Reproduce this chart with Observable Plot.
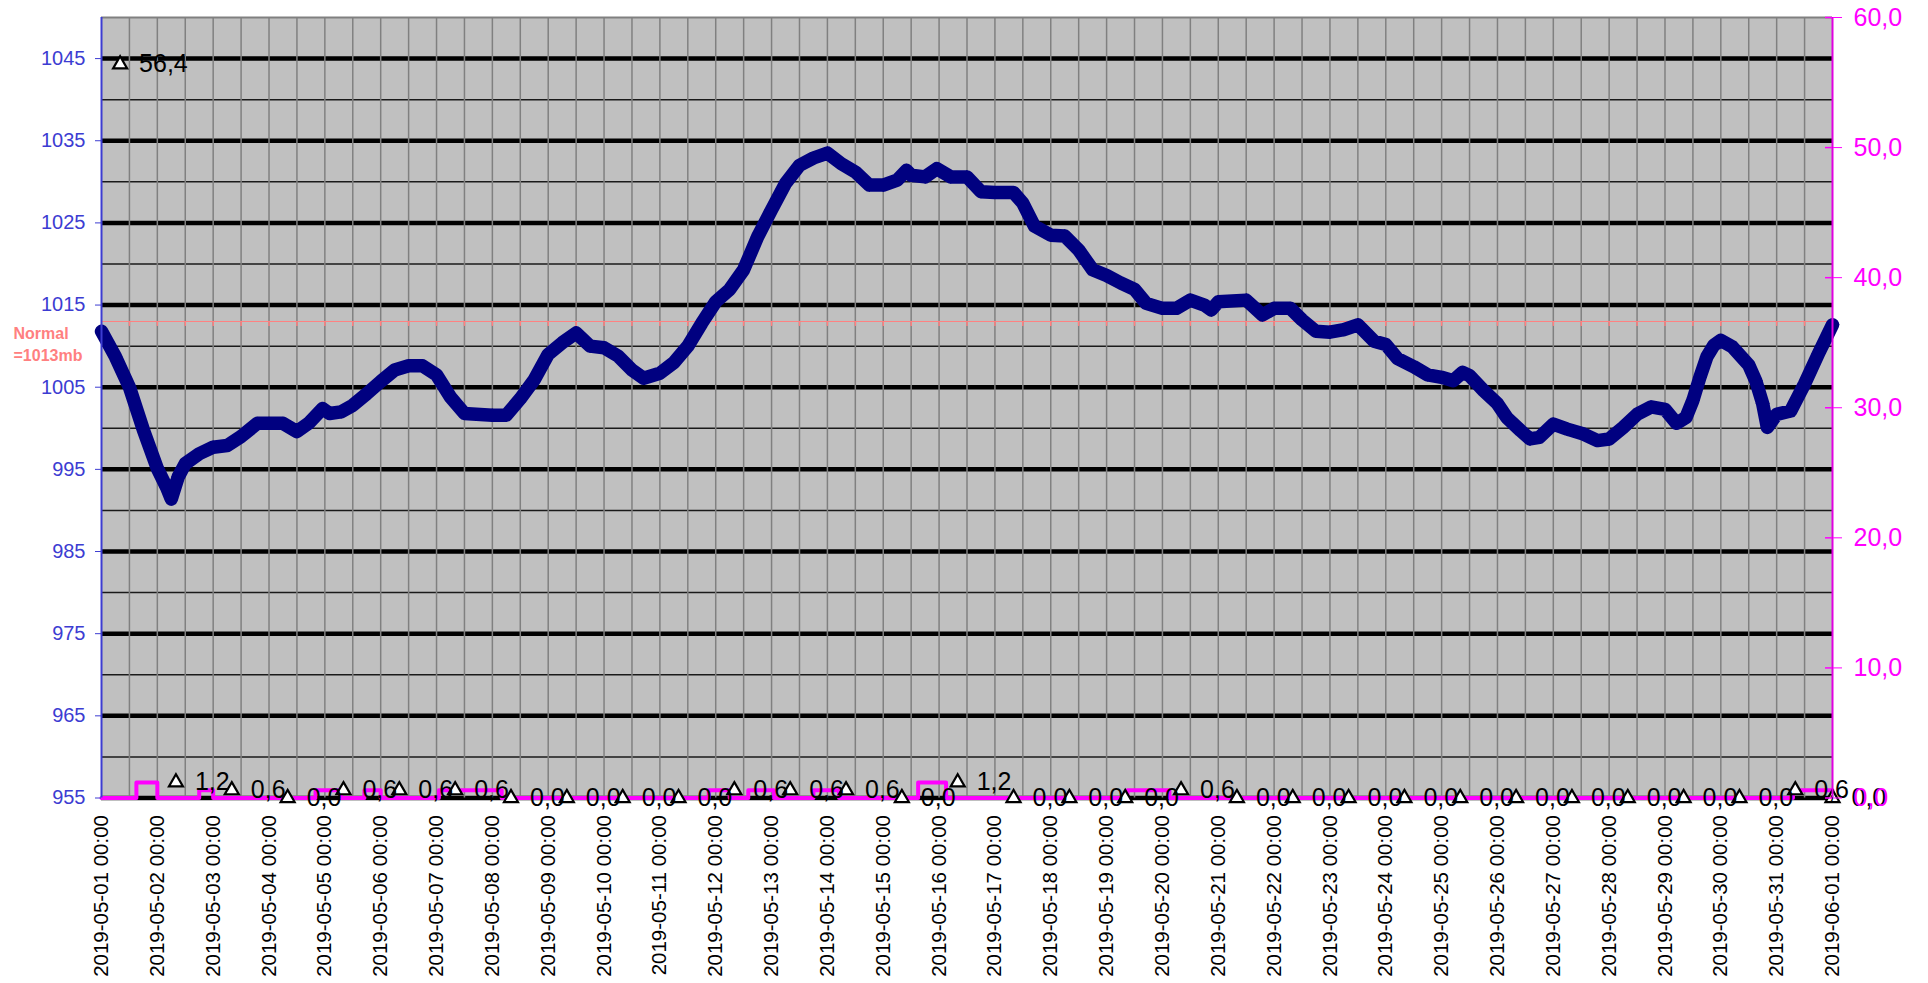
<!DOCTYPE html>
<html><head><meta charset="utf-8">
<script src="https://cdn.jsdelivr.net/npm/d3@7"></script>
<script src="https://cdn.jsdelivr.net/npm/@observablehq/plot@0.6"></script>
<style>html,body{margin:0;padding:0;background:#fff;overflow:hidden}</style>
</head><body><div id="chart"></div>
<script>
// hours since 2019-05-01 00:00 UTC
const pressureHours = [0,6,12,18,24,28,30,33,36,42,48,54,60,67,72,78,84,89,95,98,103,108,114,120,126,132,138,144,150,156,168,174,180,186,192,198,204,210,216,222,228,233,240,246,252,258,264,270,276,282,288,294,300,306,312,318,324,330,336,342,346,348,354,359,365,372,378,384,392,396,401,408,414,420,426,432,438,444,449,456,462,468,474,477,480,492,499,504,511,516,522,528,534,540,547,552,557,564,570,576,581,585,588,594,600,604,610,614,618,624,630,637,643,648,654,660,666,672,677,681,684,687,690,693,696,701,708,711,714,716,720,726,732,738,744];
const pressureValues = [1011.8,1008.7,1005.0,999.8,995.1,992.8,991.4,994.1,995.7,996.9,997.7,997.9,999.0,1000.6,1000.6,1000.6,999.6,1000.6,1002.4,1001.8,1002.0,1002.8,1004.2,1005.7,1007.1,1007.6,1007.6,1006.5,1003.8,1001.8,1001.6,1001.6,1003.6,1005.9,1009.0,1010.4,1011.6,1010.0,1009.8,1008.8,1007.1,1006.1,1006.7,1008.0,1010.0,1012.8,1015.4,1016.9,1019.3,1023.3,1026.6,1029.8,1032.0,1032.9,1033.5,1032.2,1031.2,1029.6,1029.6,1030.2,1031.4,1030.8,1030.6,1031.6,1030.6,1030.6,1028.8,1028.7,1028.7,1027.4,1024.6,1023.5,1023.4,1021.7,1019.3,1018.6,1017.7,1016.9,1015.2,1014.6,1014.6,1015.6,1015.0,1014.4,1015.4,1015.6,1013.8,1014.6,1014.6,1013.2,1011.8,1011.7,1012.0,1012.6,1010.6,1010.2,1008.5,1007.5,1006.5,1006.2,1005.8,1006.8,1006.4,1004.6,1003.0,1001.3,999.7,998.7,998.9,1000.5,999.9,999.3,998.5,998.7,1000.1,1001.7,1002.6,1002.3,1000.6,1001.3,1003.4,1006.2,1008.7,1010.1,1010.7,1009.9,1007.7,1005.8,1003.0,1000.1,1001.7,1002.1,1005.4,1009.1,1012.6];

// daily precipitation markers (mm), placed at 08:00
const dailyHours = [8,32,56,80,104,128,152,176,200,224,248,272,296,320,344,368,392,416,440,464,488,512,536,560,584,608,632,656,680,704,728,744];
const dailyPrecip = [56.4,1.2,0.6,0.0,0.6,0.6,0.6,0.0,0.0,0.0,0.0,0.6,0.6,0.6,0.0,1.2,0.0,0.0,0.0,0.6,0.0,0.0,0.0,0.0,0.0,0.0,0.0,0.0,0.0,0.0,0.6,0.0];

// precipitation step series (mm)
const stepHours = [0,15,24,42,48,92,103,113,120,145,172,261,270,278,289,306,317,351,363,441,459,727,744];
const stepValues = [0,1.2,0,0.6,0,0.6,0,0.6,0,0.6,0,0.6,0,0.6,0,0.6,0,1.2,0,0.6,0,0.6,0.6];

const leftTicks = [955,965,975,985,995,1005,1015,1025,1035,1045];
const thinGrid = [960,970,980,990,1000,1010,1020,1030,1040];
const rightTicks = [0,10,20,30,40,50,60];
const normalPressure = 1013;

const start = Date.UTC(2019,4,1);
const T = h => new Date(start + h*3600e3);
const P0 = 955, P1 = 1050, R1 = 60;
const r2p = v => P0 + v*(P1-P0)/R1;
const p2r = p => (p-P0)*R1/(P1-P0);
const fmt1 = v => v.toFixed(1).replace(".", ",");

const pressure = pressureHours.map((h,i)=>({t:T(h), p:pressureValues[i]}));
const daily = dailyHours.map((h,i)=>({t:T(h), v:dailyPrecip[i]}));
const steps = stepHours.map((h,i)=>({t:T(h), v:stepValues[i]}));
const days = d3.range(0,32).map(d=>T(d*24));
const halfDays = d3.range(1,62).map(k=>T(k*12));

const font = "'Liberation Sans', Arial, sans-serif";
const blue = "#3c3cd2", magenta = "#ff00ff", navy = "#000080";

const chart = Plot.plot({
  width:1928, height:983,
  marginLeft:101, marginRight:96, marginTop:17, marginBottom:185.5,
  x:{type:"utc", domain:[T(0),T(744)]},
  y:{domain:[P0,P1]},
  style:{fontFamily:font, background:"transparent", overflow:"visible"},
  marks:[
    Plot.frame({fill:"#c0c0c0", stroke:null}),
    Plot.ruleY(thinGrid, {stroke:"#1a1a1a", strokeWidth:1.5}),
    Plot.ruleY(leftTicks, {stroke:"black", strokeWidth:4.5}),
    Plot.ruleX(halfDays, {stroke:"#808080", strokeWidth:1.5}),
    Plot.ruleY([normalPressure], {stroke:"#ff8080", strokeWidth:1}),
    Plot.ruleX(halfDays, {y1:normalPressure, y2:normalPressure-0.6, stroke:"#ff8080", strokeWidth:1.5}),
    Plot.ruleY([P1], {stroke:"#808080", strokeWidth:2}),
    Plot.text(["Normal\n=1013mb"], {x:T(0), y:normalPressure, dx:-88, dy:21, textAnchor:"start", lineAnchor:"middle", lineHeight:1.375, fontSize:16, fontWeight:"bold", fill:"#ff8080"}),
    Plot.line(steps, {x:"t", y:d=>r2p(d.v), curve:"step-after", stroke:magenta, strokeWidth:4}),
    Plot.line(pressure, {x:"t", y:"p", stroke:navy, strokeWidth:13.5, strokeLinejoin:"round", strokeLinecap:"round"}),
    Plot.dot(pressure, {x:"t", y:"p", symbol:"diamond2", r:5.8, fill:navy, stroke:navy, strokeWidth:1}),
    Plot.dot(daily, {x:"t", y:d=>r2p(d.v), symbol:"triangle", r:5.2, fill:"white", stroke:"black", strokeWidth:2.2}),
    Plot.text(daily, {x:"t", y:d=>r2p(d.v), text:d=>fmt1(d.v), dx:19, textAnchor:"start", lineAnchor:"middle", fontSize:25, fill:"black"}),
    Plot.ruleX([T(0)], {stroke:blue, strokeWidth:2}),
    Plot.ruleX([T(744)], {stroke:"#e000e0", strokeWidth:2}),
    Plot.ruleY(rightTicks.map(r2p), {x1:T(741), x2:T(744), stroke:magenta, strokeWidth:1.5}),
    Plot.axisY({ticks:leftTicks, tickFormat:d=>String(d), tickSize:6, tickPadding:10, fontSize:20, color:blue, label:null}),
    Plot.axisY({anchor:"right", ticks:rightTicks.map(r2p), tickFormat:v=>fmt1(p2r(v)), tickSize:9, tickPadding:12, fontSize:25, color:magenta, label:null}),
    Plot.axisX({ticks:days, tickFormat:d3.utcFormat("%Y-%m-%d %H:%M"), tickRotate:-90, tickSize:0, tickPadding:17, fontSize:20.5, fill:"black", label:null})
  ]
});
document.getElementById("chart").appendChild(chart);
</script>
</body></html>
